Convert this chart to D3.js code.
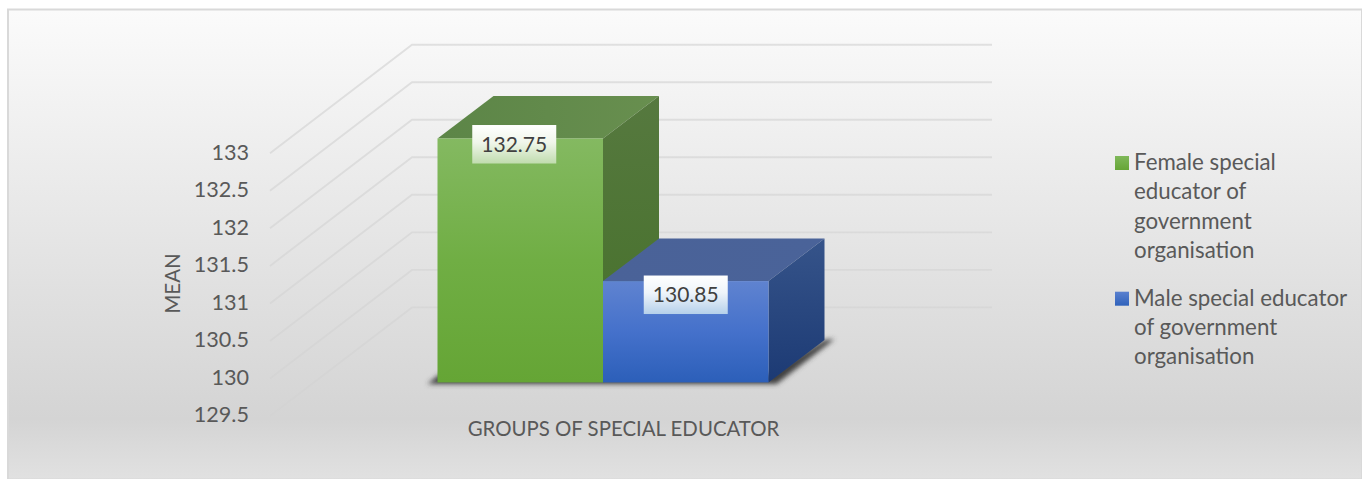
<!DOCTYPE html>
<html>
<head>
<meta charset="utf-8">
<script src="https://cdnjs.cloudflare.com/ajax/libs/d3/7.8.5/d3.min.js"></script>
<style>
  html, body { margin: 0; padding: 0; background: #fff; overflow: hidden; }
  text { font-family: Lato, "Open Sans", sans-serif; }
</style>
</head>
<body>
<div id="chart"></div>
<script>
const groups = ['Female special educator of government organisation', 'Male special educator of government organisation']
const means = [132.75, 130.85]
const valueLabels = ['132.75', '130.85']
const meanTicks = [129.5, 130, 130.5, 131, 131.5, 132, 132.5, 133]
const tickLabels = ['129.5', '130', '130.5', '131', '131.5', '132', '132.5', '133']
const legendLines = [
  ['Female special', 'educator of', 'government', 'organisation'],
  ['Male special educator', 'of government', 'organisation']
]
const xTitle = 'GROUPS OF SPECIAL EDUCATOR'
const yTitle = 'MEAN'

const width = 1362, height = 479
const depth = { x: 56, y: -42.5 }
const floorY = 382.4

const svg = d3.select('#chart').append('svg')
  .attr('width', width)
  .attr('height', height)
  .style('display', 'block')

const defs = svg.append('defs')

function gradient(id, stops, x2 = 0, y2 = 1) {
  const g = defs.append('linearGradient').attr('id', id)
    .attr('x1', 0).attr('y1', 0).attr('x2', x2).attr('y2', y2)
  stops.forEach(s => g.append('stop').attr('offset', s[0]).attr('stop-color', s[1]))
}

gradient('bg', [[0, '#fbfbfb'], [0.87, '#d4d4d4'], [1, '#e1e1e1']])
gradient('front0', [[0, '#84b961'], [0.5, '#70ae44'], [1, '#65a535']])
gradient('top0', [[0, '#5c8547'], [1, '#688f4f']], 1, 0)
gradient('side0', [[0, '#56793f'], [1, '#457029']])
gradient('label0', [[0, '#ffffff'], [0.45, '#f0f6ea'], [1, '#c0dcae']])
gradient('front1', [[0, '#5f83d0'], [0.5, '#4571cb'], [1, '#2c5fb9']])
gradient('top1', [[0, '#4a6298'], [1, '#4a6399']], 1, 0)
gradient('side1', [[0, '#36548a'], [1, '#1c3a74']])
gradient('label1', [[0, '#ffffff'], [0.45, '#eef4fa'], [1, '#b5d0ea']])
gradient('swatch0', [[0, '#7fb85a'], [1, '#66a537']])
gradient('swatch1', [[0, '#5a80cf'], [1, '#2f62bb']])

// gridlines melt into the darker lower part of the background
const gridPaint = defs.append('linearGradient').attr('id', 'grid')
  .attr('gradientUnits', 'userSpaceOnUse')
  .attr('x1', 0).attr('y1', 40).attr('x2', 0).attr('y2', 420)
gridPaint.append('stop').attr('offset', 0).attr('stop-color', '#e0e0e0')
gridPaint.append('stop').attr('offset', 0.6).attr('stop-color', '#d9d9d9')
gridPaint.append('stop').attr('offset', 1).attr('stop-color', '#d3d3d3')

const blur = defs.append('filter').attr('id', 'soft')
  .attr('x', '-10%').attr('y', '-30%').attr('width', '120%').attr('height', '160%')
blur.append('feGaussianBlur').attr('stdDeviation', 2.4)

// page frame and chart area
svg.append('rect')
  .attr('x', 8).attr('y', 9.5)
  .attr('width', width - 8).attr('height', height - 9)
  .attr('fill', 'url(#bg)')
  .attr('stroke', '#d9d9d9')
  .attr('stroke-width', 2)

const x = d3.scaleBand().domain(groups).range([437.5, 768.5])
const y = d3.scaleLinear().domain([129.5, 133]).range([floorY, 119.7])

// gridlines: front end on the side wall, then along the back wall
const wallFront = { x: 270, y: 33.6 }
const wallBack = { x: 412, y: -75 }
const wallRight = 992

svg.append('g').selectAll('path')
  .data(meanTicks)
  .join('path')
  .attr('fill', 'none')
  .attr('stroke', 'url(#grid)')
  .attr('stroke-width', 1.9)
  .attr('d', d => d3.line()([
    [wallFront.x, y(d) + wallFront.y],
    [wallBack.x, y(d) + wallBack.y],
    [wallRight, y(d) + wallBack.y]
  ]))

// value axis labels
const axis = d3.axisLeft(y)
  .tickValues(meanTicks)
  .tickSize(0)
  .tickPadding(0)
  .tickFormat((d, i) => tickLabels[i])

const axisG = svg.append('g')
  .attr('transform', `translate(249,${wallFront.y - 1})`)
  .call(axis)
axisG.select('.domain').remove()
axisG.selectAll('text')
  .attr('font-family', 'Lato')
  .attr('font-size', 21.6)
  .attr('fill', '#595959')

// shadow on the floor
const barEnd = x(groups[1]) + x.bandwidth()
svg.append('path')
  .attr('d', d3.line()([
    [x(groups[0]) - 10, floorY + 1.5],
    [x(groups[0]) + 2, floorY - 8],
    [barEnd, floorY - 8],
    [barEnd + depth.x, floorY + depth.y],
    [barEnd + depth.x + 10, floorY + depth.y - 1],
    [barEnd + 8, floorY + 1.5]
  ]))
  .attr('fill', '#404040')
  .attr('filter', 'url(#soft)')

// bars
const bars = svg.append('g').selectAll('g')
  .data(groups.map((g, i) => ({ g, i, v: means[i] })))
  .join('g')

bars.append('path')
  .attr('fill', d => `url(#top${d.i})`)
  .attr('d', d => {
    const l = x(d.g), r = l + x.bandwidth(), t = y(d.v)
    return d3.line()([[l, t], [l + depth.x, t + depth.y], [r + depth.x, t + depth.y], [r, t]]) + 'Z'
  })

bars.append('path')
  .attr('fill', d => `url(#side${d.i})`)
  .attr('d', d => {
    const r = x(d.g) + x.bandwidth(), t = y(d.v)
    return d3.line()([[r, t], [r + depth.x, t + depth.y], [r + depth.x, floorY + depth.y], [r, floorY]]) + 'Z'
  })

bars.append('rect')
  .attr('x', d => x(d.g))
  .attr('y', d => y(d.v))
  .attr('width', x.bandwidth())
  .attr('height', d => floorY - y(d.v))
  .attr('fill', d => `url(#front${d.i})`)

// value labels, placed the way the original nudged them off the bar tops
const labelW = 84, labelH = 38.5
const labelNudge = [[-6, 5.8], [0, 13.7]]
const labels = svg.append('g').selectAll('g')
  .data(groups.map((g, i) => ({ g, i, v: means[i] })))
  .join('g')
  .attr('transform', d => `translate(${x(d.g) + x.bandwidth() / 2 + labelNudge[d.i][0]},${y(d.v) + labelNudge[d.i][1]})`)

labels.append('rect')
  .attr('x', -labelW / 2)
  .attr('y', -labelH / 2)
  .attr('width', labelW)
  .attr('height', labelH)
  .attr('fill', d => `url(#label${d.i})`)

labels.append('text')
  .attr('text-anchor', 'middle')
  .attr('dy', '0.35em')
  .attr('font-size', 21)
  .attr('fill', '#404040')
  .text((d, i) => valueLabels[i])

// axis titles
svg.append('text')
  .attr('x', 623.5).attr('y', 436)
  .attr('text-anchor', 'middle')
  .attr('font-size', 20.4)
  .attr('fill', '#595959')
  .text(xTitle)

svg.append('text')
  .attr('transform', 'translate(180,283.5) rotate(-90)')
  .attr('text-anchor', 'middle')
  .attr('font-size', 20.6)
  .attr('fill', '#595959')
  .text(yTitle)

// legend
const legendStart = [170, 305.7]
const lineStep = 29.3
const legend = svg.append('g').selectAll('g')
  .data(legendLines)
  .join('g')
  .attr('transform', (d, i) => `translate(1115,${legendStart[i]})`)

legend.append('rect')
  .attr('x', 0).attr('y', -14)
  .attr('width', 14).attr('height', 14)
  .attr('fill', (d, i) => `url(#swatch${i})`)

legend.selectAll('text')
  .data(d => d)
  .join('text')
  .attr('x', 19)
  .attr('y', (d, i) => i * lineStep)
  .attr('font-size', 22.3)
  .attr('fill', '#595959')
  .text(d => d)
</script>
</body>
</html>
